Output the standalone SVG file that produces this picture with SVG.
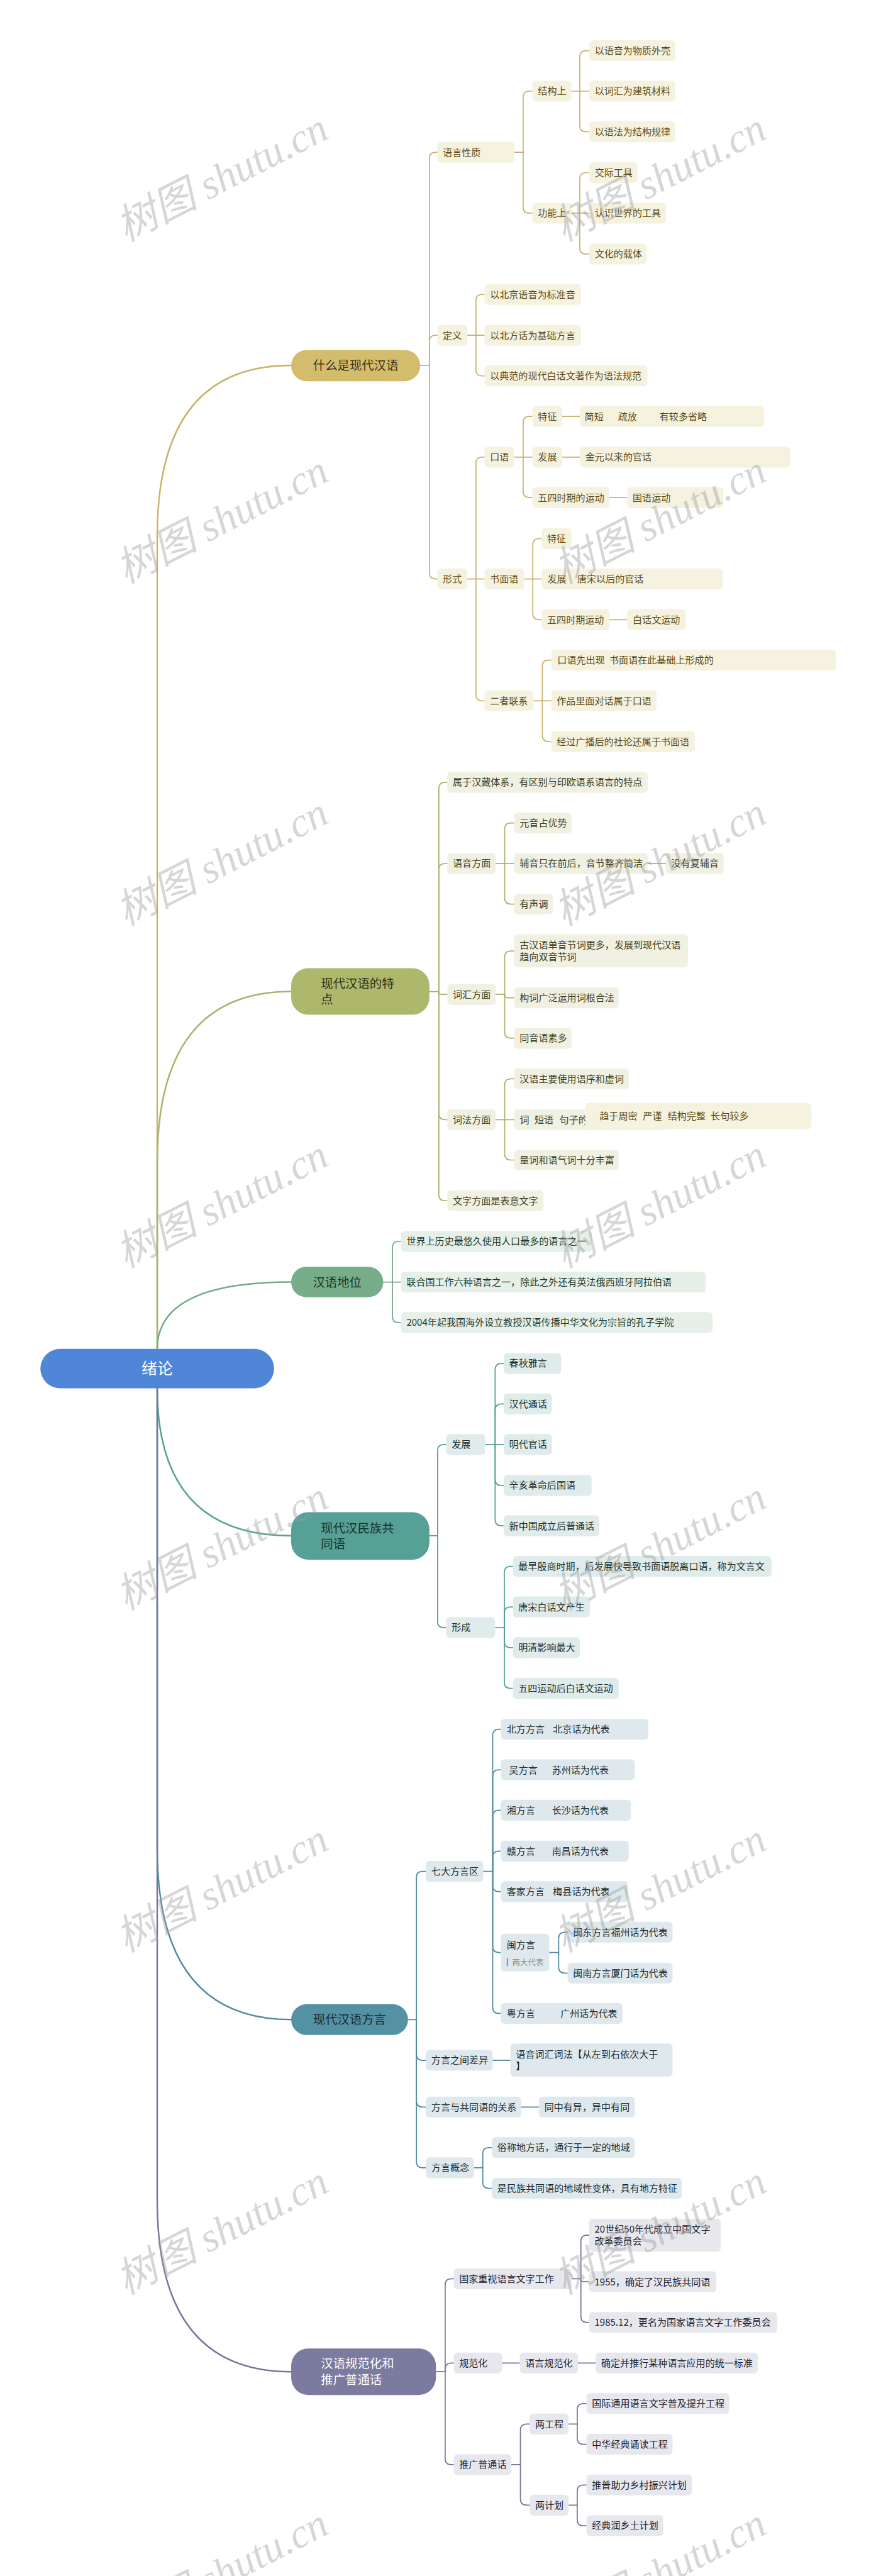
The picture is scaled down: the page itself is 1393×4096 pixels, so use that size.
<svg xmlns="http://www.w3.org/2000/svg" width="1393" height="4096" viewBox="0 0 1393 4096">
<style>
.t{font-family:"Noto Sans CJK SC","Noto Sans",sans-serif;font-size:27.7px}
.m{font-size:35.6px}
.b1{fill:#f5f2e0}.b2{fill:#f0f0e3}.b3{fill:#e6f0e9}.b4{fill:#dfeceb}.b5{fill:#dfe9ed}.b6{fill:#e7e7ee}
.f1{fill:#5c4b17}.f2{fill:#3b3e1e}.f3{fill:#1f3a29}.f4{fill:#1e302d}.f5{fill:#1b2b31}.f6{fill:#22222e}
.wm{font-family:"Liberation Serif","Noto Sans CJK SC",serif;font-style:italic;font-size:120px;fill:#9e9e9e;fill-opacity:0.42}
</style>
<rect width="1393" height="4096" fill="#ffffff"/>
<g transform="scale(0.5441)">
<g id="connectors" fill="none" stroke-linecap="round" stroke-linejoin="round">
 <g id="c-level1" stroke-width="4.5">
  <path stroke="#c9b36a" d="M459.5,3942 V1568 Q459.5,1068 851,1068"/>
  <path stroke="#a9b36b" d="M459.5,3942 V3397.6 Q459.5,2897.6 851,2897.6"/>
  <path stroke="#74aa87" d="M459.5,3942 Q459.5,3746.6 851,3746.6"/>
  <path stroke="#56a096" d="M459.5,4057 Q459.5,4488 851,4488"/>
  <path stroke="#4f8c9e" d="M459.5,4057 V5402 Q459.5,5902 851,5902"/>
  <path stroke="#76759b" d="M459.5,4057 V6431 Q459.5,6931 851,6931"/>
 </g>
 <g id="c-gold" stroke="#c9b36a" stroke-width="3.2">
  <path d="M1228,1068 H1255"/>
  <path d="M1255,1068 V463 Q1255,445 1273,445 H1278"/>
  <path d="M1255,1068 V998 Q1255,980 1273,980 H1278"/>
  <path d="M1255,1068 V1674 Q1255,1692 1273,1692 H1278"/>
  <path d="M1503,445 H1529"/>
  <path d="M1529,445 V284.5 Q1529,266.5 1547,266.5 H1556"/>
  <path d="M1529,445 V605 Q1529,623 1547,623 H1556"/>
  <path d="M1670,266.5 H1694.5"/>
  <path d="M1694.5,266.5 V166 Q1694.5,148 1712.5,148 H1722"/>
  <path d="M1694.5,266.5 H1722"/>
  <path d="M1694.5,266.5 V367 Q1694.5,385 1712.5,385 H1722"/>
  <path d="M1670,623 H1694.5"/>
  <path d="M1694.5,623 V522.5 Q1694.5,504.5 1712.5,504.5 H1722"/>
  <path d="M1694.5,623 H1722"/>
  <path d="M1694.5,623 V724.5 Q1694.5,742.5 1712.5,742.5 H1722"/>
  <path d="M1366,980 H1391"/>
  <path d="M1391,980 V878.5 Q1391,860.5 1409,860.5 H1416"/>
  <path d="M1391,980 H1416"/>
  <path d="M1391,980 V1080.3 Q1391,1098.3 1409,1098.3 H1416"/>
  <path d="M1366,1692 H1391"/>
  <path d="M1391,1692 V1354 Q1391,1336 1409,1336 H1416"/>
  <path d="M1391,1692 H1416"/>
  <path d="M1391,1692 V2030 Q1391,2048 1409,2048 H1416"/>
  <path d="M1503,1336 H1529"/>
  <path d="M1529,1336 V1235 Q1529,1217 1547,1217 H1556"/>
  <path d="M1529,1336 H1556"/>
  <path d="M1529,1336 V1436 Q1529,1454 1547,1454 H1556"/>
  <path d="M1643,1217 H1694.5"/>
  <path d="M1643,1336 H1694.5"/>
  <path d="M1781,1454 H1833"/>
  <path d="M1532,1692 H1557"/>
  <path d="M1557,1692 V1592 Q1557,1574 1575,1574 H1583"/>
  <path d="M1557,1692 H1583"/>
  <path d="M1557,1692 V1793 Q1557,1811 1575,1811 H1583"/>
  <path d="M1781,1811 H1833"/>
  <path d="M1559,2048 H1585"/>
  <path d="M1585,2048 V1947 Q1585,1929 1603,1929 H1611"/>
  <path d="M1585,2048 H1611"/>
  <path d="M1585,2048 V2149 Q1585,2167 1603,2167 H1611"/>
 </g>
 <g id="c-olive" stroke="#a9b36b" stroke-width="3.2">
  <path d="M1255,2897.6 H1282.5"/>
  <path d="M1282.5,2897.6 V2304 Q1282.5,2286 1300.5,2286 H1307.4"/>
  <path d="M1282.5,2897.6 V2541.5 Q1282.5,2523.5 1300.5,2523.5 H1307.4"/>
  <path d="M1282.5,2897.6 Q1282.5,2906 1291,2906 H1307.4"/>
  <path d="M1282.5,2897.6 V3254 Q1282.5,3272 1300.5,3272 H1307.4"/>
  <path d="M1282.5,2897.6 V3491 Q1282.5,3509 1300.5,3509 H1307.4"/>
  <path d="M1448.4,2523.5 H1475"/>
  <path d="M1475,2523.5 V2423 Q1475,2405 1493,2405 H1502.6"/>
  <path d="M1475,2523.5 H1502.6"/>
  <path d="M1475,2523.5 V2624 Q1475,2642 1493,2642 H1502.6"/>
  <path d="M1893,2523.5 H1946"/>
  <path d="M1448.4,2906 H1475"/>
  <path d="M1475,2906 V2797 Q1475,2779 1493,2779 H1502.6"/>
  <path d="M1475,2906 Q1475,2916 1485,2916 H1502.6"/>
  <path d="M1475,2906 V3016 Q1475,3034 1493,3034 H1502.6"/>
  <path d="M1448.4,3272 H1475"/>
  <path d="M1475,3272 V3170.5 Q1475,3152.5 1493,3152.5 H1502.6"/>
  <path d="M1475,3272 H1502.6"/>
  <path d="M1475,3272 V3372 Q1475,3390 1493,3390 H1502.6"/>
 </g>
 <g id="c-green" stroke="#74aa87" stroke-width="3.2">
  <path d="M1120,3746.6 H1147"/>
  <path d="M1147,3746.6 V3646 Q1147,3628 1165,3628 H1172"/>
  <path d="M1147,3746.6 H1172"/>
  <path d="M1147,3746.6 V3847 Q1147,3865 1165,3865 H1172"/>
 </g>
 <g id="c-teal" stroke="#56a096" stroke-width="3.2">
  <path d="M1255,4488 H1279"/>
  <path d="M1279,4488 V4239.5 Q1279,4221.5 1297,4221.5 H1304"/>
  <path d="M1279,4488 V4738.5 Q1279,4756.5 1297,4756.5 H1304"/>
  <path d="M1418,4221.5 H1447"/>
  <path d="M1447,4221.5 V4002.6 Q1447,3984.6 1465,3984.6 H1472"/>
  <path d="M1447,4221.5 V4121 Q1447,4103 1465,4103 H1472"/>
  <path d="M1447,4221.5 H1472"/>
  <path d="M1447,4221.5 V4323 Q1447,4341 1465,4341 H1472"/>
  <path d="M1447,4221.5 V4441 Q1447,4459 1465,4459 H1472"/>
  <path d="M1447,4756.5 H1474"/>
  <path d="M1474,4756.5 V4595.5 Q1474,4577.5 1492,4577.5 H1499"/>
  <path d="M1474,4756.5 V4714 Q1474,4696 1492,4696 H1499"/>
  <path d="M1474,4756.5 V4797 Q1474,4815 1492,4815 H1499"/>
  <path d="M1474,4756.5 V4916 Q1474,4934 1492,4934 H1499"/>
 </g>
 <g id="c-blue" stroke="#4f8c9e" stroke-width="3.2">
  <path d="M1192.5,5902 H1217"/>
  <path d="M1217,5902 V5487 Q1217,5469 1235,5469 H1244.5"/>
  <path d="M1217,5902 V6003 Q1217,6021 1235,6021 H1244.5"/>
  <path d="M1217,5902 V6139.5 Q1217,6157.5 1235,6157.5 H1244.5"/>
  <path d="M1217,5902 V6317 Q1217,6335 1235,6335 H1244.5"/>
  <path d="M1412.6,5469 H1440"/>
  <path d="M1440,5469 V5071.5 Q1440,5053.5 1458,5053.5 H1463.5"/>
  <path d="M1440,5469 V5190 Q1440,5172 1458,5172 H1463.5"/>
  <path d="M1440,5469 V5308 Q1440,5290 1458,5290 H1463.5"/>
  <path d="M1440,5469 V5427.5 Q1440,5409.5 1458,5409.5 H1463.5"/>
  <path d="M1440,5469 V5510 Q1440,5528 1458,5528 H1463.5"/>
  <path d="M1440,5469 V5688 Q1440,5706 1458,5706 H1463.5"/>
  <path d="M1440,5469 V5866 Q1440,5884 1458,5884 H1463.5"/>
  <path d="M1605.6,5706 H1632.7"/>
  <path d="M1632.7,5706 V5664.5 Q1632.7,5646.5 1650.7,5646.5 H1658.7"/>
  <path d="M1632.7,5706 V5748 Q1632.7,5766 1650.7,5766 H1658.7"/>
  <path d="M1440,6021 H1491.7"/>
  <path d="M1523,6157.5 H1575"/>
  <path d="M1385.5,6335 H1411"/>
  <path d="M1411,6335 V6294 Q1411,6276 1429,6276 H1437.5"/>
  <path d="M1411,6335 V6377 Q1411,6395 1429,6395 H1437.5"/>
 </g>
 <g id="c-purple" stroke="#76759b" stroke-width="3.2">
  <path d="M1274,6931 H1301"/>
  <path d="M1301,6931 V6677.6 Q1301,6659.6 1319,6659.6 H1326"/>
  <path d="M1301,6931 V6923.5 Q1301,6905.5 1319,6905.5 H1326"/>
  <path d="M1301,6931 V7184.6 Q1301,7202.6 1319,7202.6 H1326"/>
  <path d="M1670.6,6659.6 H1697.7"/>
  <path d="M1697.7,6659.6 V6550 Q1697.7,6532 1715.7,6532 H1721.6"/>
  <path d="M1697.7,6659.6 Q1697.7,6668 1706,6668 H1721.6"/>
  <path d="M1697.7,6659.6 V6769 Q1697.7,6787 1715.7,6787 H1721.6"/>
  <path d="M1467,6905.5 H1519"/>
  <path d="M1689,6905.5 H1741"/>
  <path d="M1494,7202.6 H1521"/>
  <path d="M1521,7202.6 V7102 Q1521,7084 1539,7084 H1548"/>
  <path d="M1521,7202.6 V7303 Q1521,7321 1539,7321 H1548"/>
  <path d="M1662,7084 H1687"/>
  <path d="M1687,7084 V7042 Q1687,7024 1705,7024 H1714"/>
  <path d="M1687,7084 V7125 Q1687,7143 1705,7143 H1714"/>
  <path d="M1662,7321 H1687"/>
  <path d="M1687,7321 V7280 Q1687,7262 1705,7262 H1714"/>
  <path d="M1687,7321 V7363 Q1687,7381 1705,7381 H1714"/>
 </g>
</g>

<g id="root"><rect x="118" y="3942" width="683" height="115" rx="57.5" fill="#4f86d8"/><text class="t" x="459.5" y="4015.5" font-size="46" text-anchor="middle" fill="#ffffff" style="font-size:46px">绪论</text></g>

<g id="m1"><rect x="851" y="1023" width="377" height="91" rx="45" fill="#d3bc6c"/><text class="t m" x="1039.5" y="1081" text-anchor="middle" fill="#3b3215">什么是现代汉语</text></g>
<g id="m2"><rect x="851" y="2829.5" width="404" height="136" rx="50" fill="#aeb86c"/><text class="t m" fill="#2c3016"><tspan x="938" y="2887">现代汉语的特</tspan><tspan x="938" y="2933.6">点</tspan></text></g>
<g id="m3"><rect x="851" y="3702" width="269" height="89" rx="44" fill="#77ae89"/><text class="t m" x="985.5" y="3759.6" text-anchor="middle" fill="#1d3324">汉语地位</text></g>
<g id="m4"><rect x="851" y="4419" width="404" height="139" rx="50" fill="#56a096"/><text class="t m" fill="#16302b"><tspan x="938" y="4478.7">现代汉民族共</tspan><tspan x="938" y="4525">同语</tspan></text></g>
<g id="m5"><rect x="851" y="5857" width="341.5" height="90" rx="45" fill="#5491a3"/><text class="t m" x="1021.7" y="5915" text-anchor="middle" fill="#142a31">现代汉语方言</text></g>
<g id="m6"><rect x="851" y="6863" width="423" height="136" rx="50" fill="#7b7a9f"/><text class="t m" fill="#ffffff"><tspan x="938" y="6920">汉语规范化和</tspan><tspan x="938" y="6967.5">推广普通话</tspan></text></g>

<g id="n1"><rect class="b1" x="1278" y="414.5" width="225" height="61" rx="11"/><text class="t f1" x="1294" y="455">语言性质</text></g>
<g id="n2"><rect class="b1" x="1556" y="236" width="114" height="61" rx="11"/><text class="t f1" x="1572" y="276.5">结构上</text></g>
<g id="n3"><rect class="b1" x="1722" y="117.5" width="252" height="61" rx="11"/><text class="t f1" x="1738" y="158">以语音为物质外壳</text></g>
<g id="n4"><rect class="b1" x="1722" y="236" width="252" height="61" rx="11"/><text class="t f1" x="1738" y="276.5">以词汇为建筑材料</text></g>
<g id="n5"><rect class="b1" x="1722" y="354.5" width="252" height="61" rx="11"/><text class="t f1" x="1738" y="395">以语法为结构规律</text></g>
<g id="n6"><rect class="b1" x="1556" y="592.5" width="114" height="61" rx="11"/><text class="t f1" x="1572" y="633">功能上</text></g>
<g id="n7"><rect class="b1" x="1722" y="474" width="141" height="61" rx="11"/><text class="t f1" x="1738" y="514.5">交际工具</text></g>
<g id="n8"><rect class="b1" x="1722" y="592.5" width="225" height="61" rx="11"/><text class="t f1" x="1738" y="633">认识世界的工具</text></g>
<g id="n9"><rect class="b1" x="1722" y="712" width="168" height="61" rx="11"/><text class="t f1" x="1738" y="752.5">文化的载体</text></g>
<g id="n10"><rect class="b1" x="1278" y="949.5" width="88" height="61" rx="11"/><text class="t f1" x="1294" y="990">定义</text></g>
<g id="n11"><rect class="b1" x="1416" y="830" width="282" height="61" rx="11"/><text class="t f1" x="1432" y="870.5">以北京语音为标准音</text></g>
<g id="n12"><rect class="b1" x="1416" y="949.5" width="282" height="61" rx="11"/><text class="t f1" x="1432" y="990">以北方话为基础方言</text></g>
<g id="n13"><rect class="b1" x="1416" y="1067.8" width="476" height="61" rx="11"/><text class="t f1" x="1432" y="1108.3">以典范的现代白话文著作为语法规范</text></g>
<g id="n14"><rect class="b1" x="1278" y="1661.5" width="88" height="61" rx="11"/><text class="t f1" x="1294" y="1702">形式</text></g>
<g id="n15"><rect class="b1" x="1416" y="1305.5" width="87" height="61" rx="11"/><text class="t f1" x="1432" y="1346">口语</text></g>
<g id="n16"><rect class="b1" x="1556" y="1186.5" width="87" height="61" rx="11"/><text class="t f1" x="1572" y="1227">特征</text></g>
<g id="n17"><rect class="b1" x="1694.5" y="1186.5" width="539" height="61" rx="11"/><text class="t f1" y="1227"><tspan x="1708.5">简短</tspan><tspan x="1806">疏放</tspan><tspan x="1927.6">有较多省略</tspan></text></g>
<g id="n18"><rect class="b1" x="1556" y="1305.5" width="87" height="61" rx="11"/><text class="t f1" x="1572" y="1346">发展</text></g>
<g id="n19"><rect class="b1" x="1694.5" y="1305.5" width="615" height="61" rx="11"/><text class="t f1" x="1710.5" y="1346">金元以来的官话</text></g>
<g id="n20"><rect class="b1" x="1556" y="1423.5" width="225" height="61" rx="11"/><text class="t f1" x="1572" y="1464">五四时期的运动</text></g>
<g id="n21"><rect class="b1" x="1833" y="1423.5" width="281" height="61" rx="11"/><text class="t f1" x="1849" y="1464">国语运动</text></g>
<g id="n22"><rect class="b1" x="1416" y="1661.5" width="116" height="61" rx="11"/><text class="t f1" x="1432" y="1702">书面语</text></g>
<g id="n23"><rect class="b1" x="1583" y="1543.5" width="87" height="61" rx="11"/><text class="t f1" x="1599" y="1584">特征</text></g>
<g id="n24"><rect class="b1" x="1583" y="1661.5" width="529" height="61" rx="11"/><text class="t f1" y="1702"><tspan x="1600">发展</tspan><tspan x="1687">唐宋以后的官话</tspan></text></g>
<g id="n25"><rect class="b1" x="1583" y="1780.5" width="198" height="61" rx="11"/><text class="t f1" x="1599" y="1821">五四时期运动</text></g>
<g id="n26"><rect class="b1" x="1833" y="1780.5" width="171" height="61" rx="11"/><text class="t f1" x="1849" y="1821">白话文运动</text></g>
<g id="n27"><rect class="b1" x="1416" y="2017.5" width="143" height="61" rx="11"/><text class="t f1" x="1432" y="2058">二者联系</text></g>
<g id="n28"><rect class="b1" x="1611" y="1898.5" width="832" height="61" rx="11"/><text class="t f1" y="1939"><tspan x="1629">口语先出现</tspan><tspan x="1781">书面语在此基础上形成的</tspan></text></g>
<g id="n29"><rect class="b1" x="1611" y="2017.5" width="308" height="61" rx="11"/><text class="t f1" x="1627" y="2058">作品里面对话属于口语</text></g>
<g id="n30"><rect class="b1" x="1611" y="2136.5" width="420" height="61" rx="11"/><text class="t f1" x="1627" y="2177">经过广播后的社论还属于书面语</text></g>

<g id="n31"><rect class="b2" x="1307.4" y="2255.5" width="585.5" height="61" rx="11"/><text class="t f2" x="1323.4" y="2296">属于汉藏体系，有区别与印欧语系语言的特点</text></g>
<g id="n32"><rect class="b2" x="1307.4" y="2493" width="141" height="61" rx="11"/><text class="t f2" x="1323.4" y="2533.5">语音方面</text></g>
<g id="n33"><rect class="b2" x="1502.6" y="2374.5" width="168" height="61" rx="11"/><text class="t f2" x="1518.6" y="2415">元音占优势</text></g>
<g id="n34"><rect class="b2" x="1502.6" y="2493" width="390" height="61" rx="11"/><text class="t f2" x="1518.6" y="2533.5">辅音只在前后，音节整齐简洁</text></g>
<g id="n35"><rect class="b2" x="1946" y="2493" width="169" height="61" rx="11"/><text class="t f2" x="1962" y="2533.5">没有复辅音</text></g>
<g id="n36"><rect class="b2" x="1502.6" y="2611.5" width="113" height="61" rx="11"/><text class="t f2" x="1518.6" y="2652">有声调</text></g>
<g id="n37"><rect class="b2" x="1307.4" y="2875.5" width="141" height="61" rx="11"/><text class="t f2" x="1323.4" y="2916">词汇方面</text></g>
<g id="n38"><rect class="b2" x="1502.6" y="2730.6" width="508.4" height="96.4" rx="11"/><text class="t f2"><tspan x="1518.6" y="2771.5">古汉语单音节词更多，发展到现代汉语</tspan><tspan x="1518.6" y="2806.5">趋向双音节词</tspan></text></g>
<g id="n39"><rect class="b2" x="1502.6" y="2885.5" width="305.5" height="61" rx="11"/><text class="t f2" x="1518.6" y="2926">构词广泛运用词根合法</text></g>
<g id="n40"><rect class="b2" x="1502.6" y="3003.5" width="168" height="61" rx="11"/><text class="t f2" x="1518.6" y="3044">同音语素多</text></g>
<g id="n41"><rect class="b2" x="1307.4" y="3241.5" width="141" height="61" rx="11"/><text class="t f2" x="1323.4" y="3282">词法方面</text></g>
<g id="n42"><rect class="b2" x="1502.6" y="3122" width="335" height="61" rx="11"/><text class="t f2" x="1518.6" y="3162.5">汉语主要使用语序和虚词</text></g>
<g id="n43"><rect class="b2" x="1502.6" y="3241.5" width="449" height="61" rx="11"/><text class="t f2" y="3282"><tspan x="1519">词</tspan><tspan x="1562">短语</tspan><tspan x="1635">句子的</tspan></text></g>
<g id="n44"><rect class="b1" x="1710.7" y="3223" width="661" height="77" rx="11"/><text class="t f1" y="3271.5"><tspan x="1752">趋于周密</tspan><tspan x="1879">严谨</tspan><tspan x="1951.4">结构完整</tspan><tspan x="2077">长句较多</tspan></text></g>
<g id="n45"><rect class="b2" x="1502.6" y="3359.5" width="305.5" height="61" rx="11"/><text class="t f2" x="1518.6" y="3400">量词和语气词十分丰富</text></g>
<g id="n46"><rect class="b2" x="1307.4" y="3478.5" width="281" height="61" rx="11"/><text class="t f2" x="1323.4" y="3519">文字方面是表意文字</text></g>

<g id="n47"><rect class="b3" x="1172" y="3597.5" width="558" height="61" rx="11"/><text class="t f3" x="1188" y="3638">世界上历史最悠久使用人口最多的语言之一</text></g>
<g id="n48"><rect class="b3" x="1172" y="3716.1" width="891" height="61" rx="11"/><text class="t f3" x="1188" y="3756.6">联合国工作六种语言之一，除此之外还有英法俄西班牙阿拉伯语</text></g>
<g id="n49"><rect class="b3" x="1172" y="3834.5" width="910.6" height="61" rx="11"/><text class="t f3" x="1188" y="3875">2004年起我国海外设立教授汉语传播中华文化为宗旨的孔子学院</text></g>

<g id="n50"><rect class="b4" x="1304" y="4191" width="114" height="61" rx="11"/><text class="t f4" x="1320" y="4231.5">发展</text></g>
<g id="n51"><rect class="b4" x="1472" y="3954.1" width="168" height="61" rx="11"/><text class="t f4" x="1488" y="3994.6">春秋雅言</text></g>
<g id="n52"><rect class="b4" x="1472" y="4072.5" width="141" height="61" rx="11"/><text class="t f4" x="1488" y="4113">汉代通话</text></g>
<g id="n53"><rect class="b4" x="1472" y="4191" width="141" height="61" rx="11"/><text class="t f4" x="1488" y="4231.5">明代官话</text></g>
<g id="n54"><rect class="b4" x="1472" y="4310.5" width="257" height="61" rx="11"/><text class="t f4" x="1488" y="4351">辛亥革命后国语</text></g>
<g id="n55"><rect class="b4" x="1472" y="4428.5" width="279" height="61" rx="11"/><text class="t f4" x="1488" y="4469">新中国成立后普通话</text></g>
<g id="n56"><rect class="b4" x="1304" y="4726" width="143" height="61" rx="11"/><text class="t f4" x="1320" y="4766.5">形成</text></g>
<g id="n57"><rect class="b4" x="1499" y="4547" width="756" height="61" rx="11"/><text class="t f4" x="1515" y="4587.5">最早殷商时期，后发展快导致书面语脱离口语，称为文言文</text></g>
<g id="n58"><rect class="b4" x="1499" y="4665.5" width="224.7" height="61" rx="11"/><text class="t f4" x="1515" y="4706">唐宋白话文产生</text></g>
<g id="n59"><rect class="b4" x="1499" y="4784.5" width="195.5" height="61" rx="11"/><text class="t f4" x="1515" y="4825">明清影响最大</text></g>
<g id="n60"><rect class="b4" x="1499" y="4903.5" width="309" height="61" rx="11"/><text class="t f4" x="1515" y="4944">五四运动后白话文运动</text></g>

<g id="n61"><rect class="b5" x="1244.5" y="5438.5" width="168" height="61" rx="11"/><text class="t f5" x="1260.5" y="5479">七大方言区</text></g>
<g id="n62"><rect class="b5" x="1463.5" y="5023" width="431.5" height="61" rx="11"/><text class="t f5" y="5063.5"><tspan x="1481">北方方言</tspan><tspan x="1616">北京话为代表</tspan></text></g>
<g id="n63"><rect class="b5" x="1463.5" y="5141.5" width="391.5" height="61" rx="11"/><text class="t f5" y="5182"><tspan x="1488">吴方言</tspan><tspan x="1613">苏州话为代表</tspan></text></g>
<g id="n64"><rect class="b5" x="1463.5" y="5259.5" width="380.5" height="61" rx="11"/><text class="t f5" y="5300"><tspan x="1481">湘方言</tspan><tspan x="1613">长沙话为代表</tspan></text></g>
<g id="n65"><rect class="b5" x="1463.5" y="5379" width="374" height="61" rx="11"/><text class="t f5" y="5419.5"><tspan x="1481">赣方言</tspan><tspan x="1613">南昌话为代表</tspan></text></g>
<g id="n66"><rect class="b5" x="1463.5" y="5497.5" width="371.5" height="61" rx="11"/><text class="t f5" y="5538"><tspan x="1481">客家方言</tspan><tspan x="1616">梅县话为代表</tspan></text></g>
<g id="n67"><rect class="b5" x="1463.5" y="5651" width="142" height="110" rx="11"/><text class="t f5" x="1481" y="5694">闽方言</text><rect x="1481" y="5723" width="4" height="23" fill="#6f9be0"/><text class="t" x="1497" y="5743" style="font-size:23px" fill="#8a8a8a">两大代表</text></g>
<g id="n68"><rect class="b5" x="1658.7" y="5616" width="307" height="61" rx="11"/><text class="t f5" x="1674.7" y="5656.5">闽东方言福州话为代表</text></g>
<g id="n69"><rect class="b5" x="1658.7" y="5735.5" width="307" height="61" rx="11"/><text class="t f5" x="1674.7" y="5776">闽南方言厦门话为代表</text></g>
<g id="n70"><rect class="b5" x="1463.5" y="5853.5" width="355.5" height="61" rx="11"/><text class="t f5" y="5894"><tspan x="1481">粤方言</tspan><tspan x="1638">广州话为代表</tspan></text></g>
<g id="n71"><rect class="b5" x="1244.5" y="5990.5" width="195.5" height="61" rx="11"/><text class="t f5" x="1260.5" y="6031">方言之间差异</text></g>
<g id="n72"><rect class="b5" x="1491.7" y="5972" width="474" height="96.6" rx="11"/><text class="t f5"><tspan x="1507.7" y="6013.6">语音词汇词法【从左到右依次大于</tspan><tspan x="1507.7" y="6048">】</tspan></text></g>
<g id="n73"><rect class="b5" x="1244.5" y="6127" width="278.5" height="61" rx="11"/><text class="t f5" x="1260.5" y="6167.5">方言与共同语的关系</text></g>
<g id="n74"><rect class="b5" x="1575" y="6127" width="280" height="61" rx="11"/><text class="t f5" x="1591" y="6167.5">同中有异，异中有同</text></g>
<g id="n75"><rect class="b5" x="1244.5" y="6304.5" width="141" height="61" rx="11"/><text class="t f5" x="1260.5" y="6345">方言概念</text></g>
<g id="n76"><rect class="b5" x="1437.5" y="6245.5" width="417.5" height="61" rx="11"/><text class="t f5" x="1453.5" y="6286">俗称地方话，通行于一定的地域</text></g>
<g id="n77"><rect class="b5" x="1437.5" y="6364.5" width="555" height="61" rx="11"/><text class="t f5" x="1453.5" y="6405">是民族共同语的地域性变体，具有地方特征</text></g>

<g id="n78"><rect class="b6" x="1326" y="6629.1" width="344.6" height="61" rx="11"/><text class="t f6" x="1342" y="6669.6">国家重视语言文字工作</text></g>
<g id="n79"><rect class="b6" x="1721.6" y="6484" width="385" height="96" rx="11"/><text class="t f6"><tspan x="1737.6" y="6524.4">20世纪50年代成立中国文字</tspan><tspan x="1737.6" y="6559">改革委员会</tspan></text></g>
<g id="n80"><rect class="b6" x="1721.6" y="6637.5" width="372" height="61" rx="11"/><text class="t f6" x="1737.6" y="6678">1955，确定了汉民族共同语</text></g>
<g id="n81"><rect class="b6" x="1721.6" y="6756.5" width="549.5" height="61" rx="11"/><text class="t f6" x="1737.6" y="6797">1985.12，更名为国家语言文字工作委员会</text></g>
<g id="n82"><rect class="b6" x="1326" y="6875" width="141" height="61" rx="11"/><text class="t f6" x="1342" y="6915.5">规范化</text></g>
<g id="n83"><rect class="b6" x="1519" y="6875" width="170" height="61" rx="11"/><text class="t f6" x="1535" y="6915.5">语言规范化</text></g>
<g id="n84"><rect class="b6" x="1741" y="6875" width="474" height="61" rx="11"/><text class="t f6" x="1757" y="6915.5">确定并推行某种语言应用的统一标准</text></g>
<g id="n85"><rect class="b6" x="1326" y="7172.1" width="168" height="61" rx="11"/><text class="t f6" x="1342" y="7212.6">推广普通话</text></g>
<g id="n86"><rect class="b6" x="1548" y="7053.5" width="114" height="61" rx="11"/><text class="t f6" x="1564" y="7094">两工程</text></g>
<g id="n87"><rect class="b6" x="1714" y="6993.5" width="417.4" height="61" rx="11"/><text class="t f6" x="1730" y="7034">国际通用语言文字普及提升工程</text></g>
<g id="n88"><rect class="b6" x="1714" y="7112.5" width="251.5" height="61" rx="11"/><text class="t f6" x="1730" y="7153">中华经典诵读工程</text></g>
<g id="n89"><rect class="b6" x="1548" y="7290.5" width="114" height="61" rx="11"/><text class="t f6" x="1564" y="7331">两计划</text></g>
<g id="n90"><rect class="b6" x="1714" y="7231.5" width="308" height="61" rx="11"/><text class="t f6" x="1730" y="7272">推普助力乡村振兴计划</text></g>
<g id="n91"><rect class="b6" x="1714" y="7350.5" width="224.4" height="61" rx="11"/><text class="t f6" x="1730" y="7391">经典润乡土计划</text></g>

<g id="watermarks" text-anchor="middle">
 <text class="wm" transform="translate(648,517) rotate(-27)" y="42">树图 shutu.cn</text>
 <text class="wm" transform="translate(1928,517) rotate(-27)" y="42">树图 shutu.cn</text>
 <text class="wm" transform="translate(648,1517) rotate(-27)" y="42">树图 shutu.cn</text>
 <text class="wm" transform="translate(1928,1517) rotate(-27)" y="42">树图 shutu.cn</text>
 <text class="wm" transform="translate(648,2517) rotate(-27)" y="42">树图 shutu.cn</text>
 <text class="wm" transform="translate(1928,2517) rotate(-27)" y="42">树图 shutu.cn</text>
 <text class="wm" transform="translate(648,3517) rotate(-27)" y="42">树图 shutu.cn</text>
 <text class="wm" transform="translate(1928,3517) rotate(-27)" y="42">树图 shutu.cn</text>
 <text class="wm" transform="translate(648,4517) rotate(-27)" y="42">树图 shutu.cn</text>
 <text class="wm" transform="translate(1928,4517) rotate(-27)" y="42">树图 shutu.cn</text>
 <text class="wm" transform="translate(648,5517) rotate(-27)" y="42">树图 shutu.cn</text>
 <text class="wm" transform="translate(1928,5517) rotate(-27)" y="42">树图 shutu.cn</text>
 <text class="wm" transform="translate(648,6517) rotate(-27)" y="42">树图 shutu.cn</text>
 <text class="wm" transform="translate(1928,6517) rotate(-27)" y="42">树图 shutu.cn</text>
 <text class="wm" transform="translate(648,7517) rotate(-27)" y="42">树图 shutu.cn</text>
 <text class="wm" transform="translate(1928,7517) rotate(-27)" y="42">树图 shutu.cn</text>
</g>
</g>
</svg>
